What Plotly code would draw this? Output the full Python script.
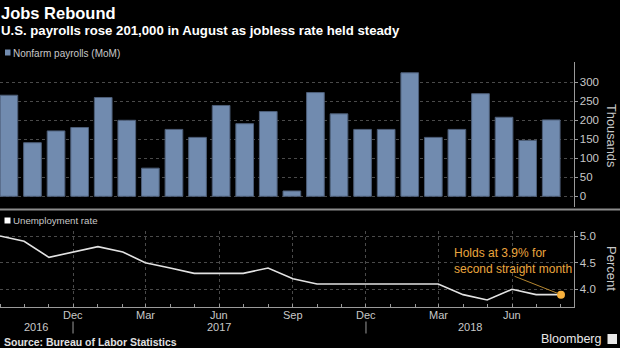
import plotly.graph_objects as go
import pandas as pd

# ---- data ----
months = pd.date_range("2016-09-01", periods=24, freq="MS")
payrolls = [266, 141, 172, 181, 260, 200, 74, 176, 155, 239, 191, 223,
            14, 273, 217, 176, 176, 325, 155, 176, 270, 208, 147, 201]
unemployment = [5.0, 4.9, 4.6, 4.7, 4.8, 4.7, 4.5, 4.4, 4.3, 4.3, 4.3, 4.4,
                4.2, 4.1, 4.1, 4.1, 4.1, 4.1, 4.1, 3.9, 3.8, 4.0, 3.9, 3.9]
quarter_ticks = ["2016-12-01", "2017-03-01", "2017-06-01", "2017-09-01",
                 "2017-12-01", "2018-03-01", "2018-06-01"]
quarter_labels = ["Dec", "Mar", "Jun", "Sep", "Dec", "Mar", "Jun"]
year_labels = ["2016", "2017", "2018"]
year_label_pos = ["2016-10-16", "2017-06-01", "2018-04-10"]
year_dividers = ["2016-12-01", "2017-12-01"]
payroll_ticks = [0, 50, 100, 150, 200, 250, 300]
rate_ticks = [4.0, 4.5, 5.0]

W, H = 620, 348
FONT = "Liberation Sans, Arial, sans-serif"
TICKC = "#c8c8c8"
AXC = "#9a9a9a"
GRIDC = "#4a4a4a"
BAR = "#718baf"
ORANGE = "#eba63e"

def py(px):
    return 1 - px / H

XDOM = [0, 573.5 / W]
DATE_RANGE = ["2016-09-01", "2018-08-16 14:00"]

fig = go.Figure()

fig.add_trace(go.Bar(
    x=list(range(len(payrolls))), y=payrolls, xaxis="x3", yaxis="y",
    width=0.75, marker=dict(color=BAR, line=dict(color="#4d5e78", width=1)),
    showlegend=False, hoverinfo="skip"))

fig.add_trace(go.Scatter(
    x=months, y=unemployment, xaxis="x2", yaxis="y2", mode="lines",
    line=dict(color="#e2e2e2", width=1.6), showlegend=False, hoverinfo="skip"))

fig.add_trace(go.Scatter(
    x=[months[-1]], y=[unemployment[-1]], xaxis="x2", yaxis="y2", mode="markers",
    marker=dict(color="#f7b03c", size=8), showlegend=False, hoverinfo="skip"))

common_x = dict(domain=XDOM, type="date", range=DATE_RANGE, tickmode="array",
                tickvals=quarter_ticks, showgrid=True, gridcolor=GRIDC,
                griddash="dot", gridwidth=1, zeroline=False, showticklabels=False)

fig.update_layout(
    width=W, height=H, margin=dict(l=0, r=0, t=0, b=0),
    paper_bgcolor="black", plot_bgcolor="black",
    font=dict(family=FONT, color=TICKC, size=11),
    xaxis=dict(**common_x, anchor="y", ticks=""),
    xaxis3=dict(domain=XDOM, overlaying="x", range=[-0.377, 23.945],
                visible=False, anchor="y"),
    yaxis=dict(domain=[py(206.7), py(62)], range=[-27.4, 353.4], side="right",
               anchor="x", tickvals=payroll_ticks, ticks="outside", ticklen=3,
               tickcolor=AXC, showline=True, linecolor=AXC, linewidth=1,
               showgrid=True, gridcolor=GRIDC, griddash="dot", zeroline=False,
               tickfont=dict(size=11.5, color=TICKC)),
    xaxis2=dict(**common_x, anchor="y2", ticks="",
                showline=True, linecolor=AXC, linewidth=1,
                minor=dict(tickmode="linear", tick0="2016-09-01", dtick="M1",
                           ticks="inside", ticklen=3, tickcolor=AXC, showgrid=False)),
    yaxis2=dict(domain=[py(306.7), py(231)], range=[3.674, 5.094], side="right",
                anchor="x2", tickvals=rate_ticks, tickformat=".1f", ticks="outside",
                ticklen=3, tickcolor=AXC, showline=True, linecolor=AXC, linewidth=1,
                showgrid=True, gridcolor=GRIDC, griddash="dot", zeroline=False,
                tickfont=dict(size=11.5, color=TICKC)),
)

ann = []
def text(x, y, s, size, color=TICKC, bold=False, xanchor="left", angle=0, align="left"):
    ann.append(dict(x=x / W, y=py(y), xref="paper", yref="paper", text=(f"<b>{s}</b>" if bold else s),
                    showarrow=False, xanchor=xanchor, yanchor="middle", textangle=angle,
                    align=align, font=dict(family=FONT, size=size, color=color)))

text(-1, 12.5, "Jobs Rebound", 16.5, "white", bold=True)
text(-1, 31, "U.S. payrolls rose 201,000 in August as jobless rate held steady", 13.2, "white", bold=True)
text(11, 53, "Nonfarm payrolls (MoM)", 10)
text(11, 220.5, "Unemployment rate", 9.7)
text(612, 135, "Thousands", 12.8, TICKC, xanchor="center", angle=90)
text(612, 268, "Percent", 13, TICKC, xanchor="center", angle=90)
text(452, 261, "Holds at 3.9% for<br>second straight month", 12, ORANGE)
text(2, 341.5, "Source: Bureau of Labor Statistics", 10.5, "#e0e0e0", bold=True)
text(603, 339, "Bloomberg", 12.5, "#e8e8e8", xanchor="right")

for lbl, pos in zip(quarter_labels, quarter_ticks):
    ann.append(dict(x=pos, y=py(314.5), xref="x2", yref="paper", text=lbl, showarrow=False,
                    xanchor="center", yanchor="middle", font=dict(size=11, color=TICKC)))
for lbl, pos in zip(year_labels, year_label_pos):
    ann.append(dict(x=pos, y=py(327), xref="x2", yref="paper", text=lbl, showarrow=False,
                    xanchor="center", yanchor="middle", font=dict(size=11, color=TICKC)))

# arrow pointing to latest unemployment value
ann.append(dict(x=months[-1], y=unemployment[-1], xref="x2", yref="y2", text="",
                showarrow=True, arrowhead=0, arrowwidth=1, arrowcolor="#b5862f",
                ax=-48, ay=-19, standoff=3))

fig.update_layout(annotations=ann)

shapes = [
    dict(type="line", xref="paper", yref="paper", x0=0, x1=1, y0=py(209.5), y1=py(209.5),
         line=dict(color="#8c8c8c", width=2)),
    dict(type="rect", xref="paper", yref="paper", x0=5 / W, x1=10.5 / W, y0=py(55.5), y1=py(49.5),
         fillcolor=BAR, line=dict(width=0)),
    dict(type="rect", xref="paper", yref="paper", x0=4.5 / W, x1=10.5 / W, y0=py(223.5), y1=py(217.5),
         fillcolor="white", line=dict(width=0)),
    dict(type="rect", xref="paper", yref="paper", x0=607.5 / W, x1=617 / W, y0=py(344), y1=py(334),
         fillcolor="#e8e8e8", line=dict(width=0)),
]
for d in year_dividers:
    shapes.append(dict(type="line", xref="x2", yref="paper", x0=d, x1=d, y0=py(333.5), y1=py(321.5),
                       line=dict(color=AXC, width=1)))
fig.update_layout(shapes=shapes)

fig.write_html("out.html")
